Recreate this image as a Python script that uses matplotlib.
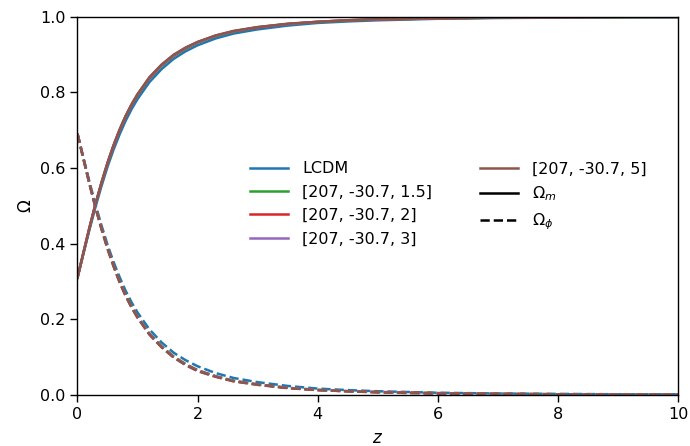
import matplotlib
matplotlib.use("Agg")
import matplotlib.pyplot as plt
from matplotlib.lines import Line2D

z = [0, 0.1, 0.2, 0.3, 0.4, 0.5, 0.6, 0.7, 0.8, 0.9, 1.0, 1.2, 1.4, 1.6, 1.8,
     2.0, 2.3, 2.6, 3.0, 3.5, 4.0, 4.5, 5, 6, 7, 8, 9, 10]

labels = ["LCDM", "[207, -30.7, 1.5]", "[207, -30.7, 2]", "[207, -30.7, 3]", "[207, -30.7, 5]"]
colors = ["#1f77b4", "#2ca02c", "#d62728", "#9467bd", "#8c564b"]

om_lcdm = [0.310, 0.374, 0.437, 0.497, 0.552, 0.603, 0.648, 0.688, 0.724, 0.755,
           0.782, 0.827, 0.861, 0.888, 0.908, 0.924, 0.942, 0.955, 0.966, 0.976,
           0.983, 0.987, 0.990, 0.994, 0.996, 0.997, 0.998, 0.998]
op_lcdm = [0.690, 0.626, 0.563, 0.503, 0.448, 0.397, 0.352, 0.312, 0.276, 0.245,
           0.218, 0.173, 0.139, 0.112, 0.092, 0.076, 0.058, 0.045, 0.034, 0.024,
           0.017, 0.013, 0.010, 0.006, 0.004, 0.003, 0.002, 0.002]

om_15 = [0.310, 0.376, 0.441, 0.503, 0.559, 0.611, 0.657, 0.698, 0.734, 0.765,
         0.792, 0.837, 0.870, 0.896, 0.915, 0.931, 0.948, 0.960, 0.971, 0.980,
         0.985, 0.989, 0.992, 0.995, 0.997, 0.998, 0.998, 0.999]
op_15 = [0.690, 0.624, 0.559, 0.497, 0.441, 0.389, 0.343, 0.302, 0.266, 0.235,
         0.207, 0.162, 0.129, 0.102, 0.082, 0.066, 0.050, 0.038, 0.028, 0.019,
         0.014, 0.010, 0.008, 0.005, 0.003, 0.002, 0.002, 0.001]

om_2 = [0.310, 0.376, 0.442, 0.504, 0.560, 0.612, 0.658, 0.699, 0.735, 0.766,
        0.793, 0.838, 0.871, 0.897, 0.916, 0.932, 0.949, 0.961, 0.971, 0.980,
        0.986, 0.990, 0.992, 0.995, 0.997, 0.998, 0.999, 0.999]
op_2 = [0.690, 0.624, 0.558, 0.496, 0.440, 0.388, 0.342, 0.300, 0.264, 0.233,
        0.206, 0.161, 0.128, 0.101, 0.081, 0.065, 0.049, 0.037, 0.028, 0.019,
        0.013, 0.010, 0.008, 0.005, 0.003, 0.002, 0.001, 0.001]

om_3 = [0.310, 0.377, 0.442, 0.504, 0.561, 0.613, 0.659, 0.700, 0.736, 0.767,
        0.794, 0.839, 0.872, 0.898, 0.917, 0.932, 0.949, 0.961, 0.972, 0.980,
        0.986, 0.990, 0.993, 0.996, 0.997, 0.998, 0.999, 0.999]
op_3 = [0.690, 0.623, 0.558, 0.496, 0.439, 0.387, 0.341, 0.299, 0.263, 0.232,
        0.205, 0.160, 0.127, 0.100, 0.080, 0.064, 0.049, 0.037, 0.027, 0.019,
        0.013, 0.010, 0.007, 0.004, 0.003, 0.002, 0.001, 0.001]

om_5 = [0.310, 0.377, 0.443, 0.505, 0.562, 0.614, 0.660, 0.701, 0.737, 0.768,
        0.795, 0.840, 0.873, 0.899, 0.918, 0.933, 0.950, 0.962, 0.972, 0.981,
        0.986, 0.990, 0.993, 0.996, 0.997, 0.998, 0.999, 0.999]
op_5 = [0.690, 0.623, 0.557, 0.495, 0.438, 0.386, 0.340, 0.298, 0.262, 0.231,
        0.204, 0.159, 0.126, 0.099, 0.079, 0.063, 0.048, 0.036, 0.027, 0.018,
        0.013, 0.010, 0.007, 0.004, 0.003, 0.002, 0.001, 0.001]

omega_m = [om_lcdm, om_15, om_2, om_3, om_5]
omega_phi = [op_lcdm, op_15, op_2, op_3, op_5]

fig = plt.figure(figsize=(6.9, 4.46), dpi=100)
ax = fig.add_axes([0.1123, 0.1143, 0.8703, 0.8487])

lw = 1.8
for om, c in zip(omega_m, colors):
    ax.plot(z, om, color=c, lw=lw, ls='-')
for op, c in zip(omega_phi, colors):
    ax.plot(z, op, color=c, lw=lw, ls='--')

ax.set_xlim(0, 10)
ax.set_ylim(0, 1)
ax.set_xticks([0, 2, 4, 6, 8, 10])
ax.set_yticks([0.0, 0.2, 0.4, 0.6, 0.8, 1.0])
ax.tick_params(labelsize=11.5, length=5, width=1.0)
for s in ax.spines.values():
    s.set_linewidth(1.0)
ax.set_xlabel(r'$z$', fontsize=12, labelpad=5)
ax.set_ylabel(r'$\Omega$', fontsize=12)

handles = [Line2D([], [], color=c, lw=lw) for c in colors]
handles += [Line2D([], [], color='black', lw=lw, ls='-'),
            Line2D([], [], color='black', lw=lw, ls='--')]
leg_labels = labels + [r'$\Omega_m$', r'$\Omega_\phi$']
ax.legend(handles, leg_labels, ncol=2, frameon=False, fontsize=11.5,
          loc='center left', bbox_to_anchor=(0.264, 0.505),
          handlelength=2.38, handletextpad=0.88, columnspacing=2.95,
          labelspacing=0.52)

fig.savefig("out.png", dpi=100)
